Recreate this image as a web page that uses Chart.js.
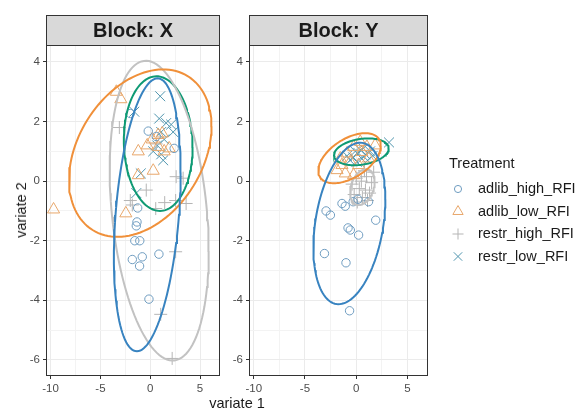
<!DOCTYPE html>
<html>
<head>
<meta charset="utf-8">
<script src="https://cdn.jsdelivr.net/npm/chart.js@4.4.1/dist/chart.umd.min.js"></script>
<style>
    body { margin: 0; background: #fff; width: 580px; height: 410px; position: relative; overflow: hidden;
           font-family: "Liberation Sans", Arial, sans-serif; }
    canvas { position: absolute; top: 0; }
    #chartX { left: 0; }
    #chartY { left: 228px; }
    .axis-title { position: absolute; font-size: 14.5px; color: #1a1a1a; white-space: nowrap; }
    #xTitle { left: 237px; top: 395px; transform: translateX(-50%); }
    #yTitle { left: 21px; top: 210px; transform: translate(-50%, -50%) rotate(-90deg); }
</style>
</head>
<body>
<canvas id="chartX" width="228" height="410"></canvas>
<canvas id="chartY" width="352" height="410"></canvas>
<div class="axis-title" id="xTitle">variate 1</div>
<div class="axis-title" id="yTitle">variate 2</div>

<script>
// 1. DATA
const treatments = ['adlib_high_RFI', 'adlib_low_RFI', 'restr_high_RFI', 'restr_low_RFI'];

const xTicks = [-10, -5, 0, 5];
const xMinor = [-7.5, -2.5, 2.5];
const yTicks = [-6, -4, -2, 0, 2, 4];
const yMinor = [-5, -3, -1, 1, 3];

// Block X individuals [variate 1, variate 2]
const adlibHighX = [[-2.0, 2.27], [-0.2, 1.68], [0.6, 1.5], [2.4, 1.1], [-1.26, -0.9], [-1.33, -1.37], [-1.4, -1.5],
    [-1.55, -2.0], [-1.05, -2.0], [-1.8, -2.63], [-0.8, -2.54], [-1.07, -2.85], [0.87, -2.45], [-0.13, -3.96]];
const adlibLowX = [[-3.4, 3.0], [-2.95, 2.75], [-1.2, 1.0], [-0.3, 1.2], [0.2, 1.4], [0.8, 1.55], [1.2, 1.6],
    [0.8, 1.15], [1.4, 1.0], [1.9, 1.1], [0.3, 0.35], [-1.2, 0.2], [-9.7, -0.95], [-2.45, -1.08]];
const restrHighX = [[-3.1, 1.8], [-0.4, -0.3], [-2.0, -0.65], [-1.8, -0.8], [0.55, -0.92], [1.45, -0.72], [2.55, -0.65],
    [3.6, -0.75], [2.6, 0.15], [3.3, 0.1], [2.55, -2.37], [1.05, -4.47], [2.2, -5.95], [0.6, 1.25]];
const restrLowX = [[1.0, 2.85], [-1.6, 2.33], [0.9, 2.1], [1.6, 1.95], [2.1, 1.9], [2.3, 1.65], [1.1, 1.65],
    [1.4, 1.4], [0.7, 1.2], [1.1, 0.9], [1.3, 0.7], [-0.95, 0.26], [-1.4, -0.4], [0.3, 1.0]];

// Block Y individuals
const adlibHighY = [[-2.94, -1.0], [-2.52, -1.14], [-1.39, -0.75], [-1.07, -0.84], [-0.3, -0.69], [0.16, -0.61], [1.2, -0.69],
    [1.9, -1.31], [-0.8, -1.57], [-0.58, -1.64], [0.23, -1.81], [-3.1, -2.43], [-1.0, -2.74], [-0.65, -4.35]];
const adlibLowY = [[-1.87, 0.37], [-1.07, 0.26], [-0.26, 0.2], [-1.39, 0.54], [-0.58, 0.65], [0.23, 0.54], [-0.9, 0.93],
    [-0.26, 1.15], [0.55, 0.98], [1.04, 1.15], [1.84, 1.2], [1.2, 0.76], [-1.55, 0.76], [0.39, 1.32]];
const restrHighY = [[0.0, 0.1], [0.5, 0.0], [1.0, 0.15], [1.5, -0.05], [0.3, -0.25], [0.9, -0.3], [1.3, -0.4],
    [-0.2, -0.45], [0.6, -0.55], [1.1, -0.65], [0.1, -0.7], [0.8, 0.35], [1.7, 0.3], [-0.4, -0.1]];
const restrLowY = [[-0.9, 0.85], [-0.3, 0.8], [0.2, 0.95], [0.55, 0.75], [0.9, 0.9], [0.05, 0.65], [1.35, 1.0],
    [3.2, 1.3], [0.4, 1.05], [-0.6, 0.7], [1.1, 0.7], [0.7, 1.1], [-0.1, 1.0], [1.6, 0.85]];

// Confidence ellipses: [centre x, centre y, half width, half height, correlation]
const ellipsesX = [[-0.3, -1.13, 3.35, 4.58, 0.31], [-1.0, 0.94, 7.15, 2.81, 0.32],
    [0.9, -0.99, 4.97, 5.03, -0.27], [0.8, 1.26, 3.45, 2.26, -0.05]];
const ellipsesY = [[-0.67, -1.42, 3.51, 2.71, 0.3], [-0.65, 0.77, 3.05, 0.84, 0.5],
    [0.6, -0.2, 1.2, 0.6, 0.3], [0.5, 0.985, 2.67, 0.45, 0.25]];

// 2. STYLE
const lineColors = ['#3883C0', '#F0903A', '#C2C2C2', '#0E9A74'];
const pointColors = ['#6E9CC0', '#E8A76B', '#B5B5B5', '#4F95AE'];
const pointStyles = ['circle', 'triangle', 'cross', 'crossRot'];
const pointSizes = [4.2, 7, 6.5, 7];
const FONT = '"Liberation Sans", Arial, sans-serif';

function ellipsePoints(e) {
    const [cx, cy, rx, ry, rho] = e;
    const k = Math.sqrt(1 - rho * rho);
    const pts = [];
    for (let i = 0; i <= 120; i++) {
        const t = 2 * Math.PI * i / 120;
        pts.push({ x: cx + rx * Math.cos(t), y: cy + ry * (rho * Math.cos(t) + k * Math.sin(t)) });
    }
    return pts;
}

function buildDatasets(groups, ellipses) {
    const lines = ellipses.map((e, i) => ({
        data: ellipsePoints(e), showLine: true, borderColor: lineColors[i], borderWidth: 2,
        pointRadius: 0, fill: false, tension: 0
    }));
    const points = groups.map((g, i) => ({
        data: g.map(p => ({ x: p[0], y: p[1] })),
        pointStyle: pointStyles[i], pointRadius: pointSizes[i],
        pointBorderColor: pointColors[i], pointBackgroundColor: 'rgba(0,0,0,0)', pointBorderWidth: 1
    }));
    return lines.concat(points); // first datasets are drawn on top
}

// 3. PLUGINS: facet strip + panel border, treatment legend
const facetPlugin = {
    id: 'facet',
    afterDraw(chart, args, opts) {
        const { left, right, top, bottom } = chart.chartArea;
        const ctx = chart.ctx;
        ctx.save();
        ctx.fillStyle = '#D9D9D9';
        ctx.fillRect(left, top - 30, right - left, 30);
        ctx.strokeStyle = '#333333';
        ctx.lineWidth = 1;
        ctx.strokeRect(left + 0.5, top - 29.5, right - left - 1, 30);
        ctx.strokeRect(left + 0.5, top + 0.5, right - left - 1, bottom - top - 1);
        ctx.fillStyle = '#1a1a1a';
        ctx.font = 'bold 20px ' + FONT;
        ctx.textAlign = 'center';
        ctx.textBaseline = 'middle';
        ctx.fillText(opts.title, (left + right) / 2, top - 14);
        ctx.restore();
    }
};

const legendPlugin = {
    id: 'trtLegend',
    afterDraw(chart, args, opts) {
        if (!opts.show) return;
        const ctx = chart.ctx;
        ctx.save();
        ctx.font = '14.5px ' + FONT;
        ctx.textBaseline = 'middle';
        ctx.fillStyle = '#1a1a1a';
        ctx.fillText('Treatment', opts.x, opts.y);
        treatments.forEach((t, i) => {
            const y = opts.y + 25 + i * 22.5;
            ctx.strokeStyle = pointColors[i];
            ctx.fillStyle = 'rgba(0,0,0,0)';
            Chart.helpers.drawPoint(ctx, { pointStyle: pointStyles[i], radius: pointSizes[i] * 0.85, borderWidth: 1 }, opts.x + 9, y);
            ctx.fillStyle = '#1a1a1a';
            ctx.fillText(t, opts.x + 29, y);
        });
        ctx.restore();
    }
};

function axisOptions(values, minor, min, max, fitFn) {
    return {
        type: 'linear', min: min, max: max,
        afterBuildTicks: s => { s.ticks = values.concat(minor).sort((a, b) => a - b).map(v => ({ value: v })); },
        afterFit: fitFn,
        border: { display: false },
        grid: {
            color: ctx => values.includes(ctx.tick.value) ? '#EBEBEB' : '#F3F3F3',
            lineWidth: 1,
            tickColor: ctx => values.includes(ctx.tick.value) ? '#333333' : 'rgba(0,0,0,0)',
            tickLength: 3, tickWidth: 1
        },
        ticks: {
            autoSkip: false, maxRotation: 0, padding: 3, color: '#4D4D4D',
            font: { size: 11.5, family: FONT },
            callback: v => values.includes(v) ? String(v) : ''
        }
    };
}

function makePanel(canvasId, groups, ellipses, title, yWidth, rightPad, legend) {
    return new Chart(document.getElementById(canvasId), {
        type: 'scatter',
        data: { datasets: buildDatasets(groups, ellipses) },
        options: {
            responsive: false, animation: false, devicePixelRatio: 1,
            layout: { padding: { top: 45, left: 0, right: rightPad, bottom: 0 } },
            plugins: {
                legend: { display: false }, tooltip: { enabled: false },
                facet: { title: title },
                trtLegend: legend
            },
            scales: {
                x: axisOptions(xTicks, xMinor, -10.46, 7.0, s => { s.height = 34; }),
                y: axisOptions(yTicks, yMinor, -6.54, 4.57, s => { s.width = yWidth; })
            }
        },
        plugins: [facetPlugin, legendPlugin]
    });
}

makePanel('chartX', [adlibHighX, adlibLowX, restrHighX, restrLowX], ellipsesX, 'Block: X', 46, 2, { show: false });
makePanel('chartY', [adlibHighY, adlibLowY, restrHighY, restrLowY], ellipsesY, 'Block: Y', 21, 152, { show: true, x: 221, y: 164 });
</script>
</body>
</html>
